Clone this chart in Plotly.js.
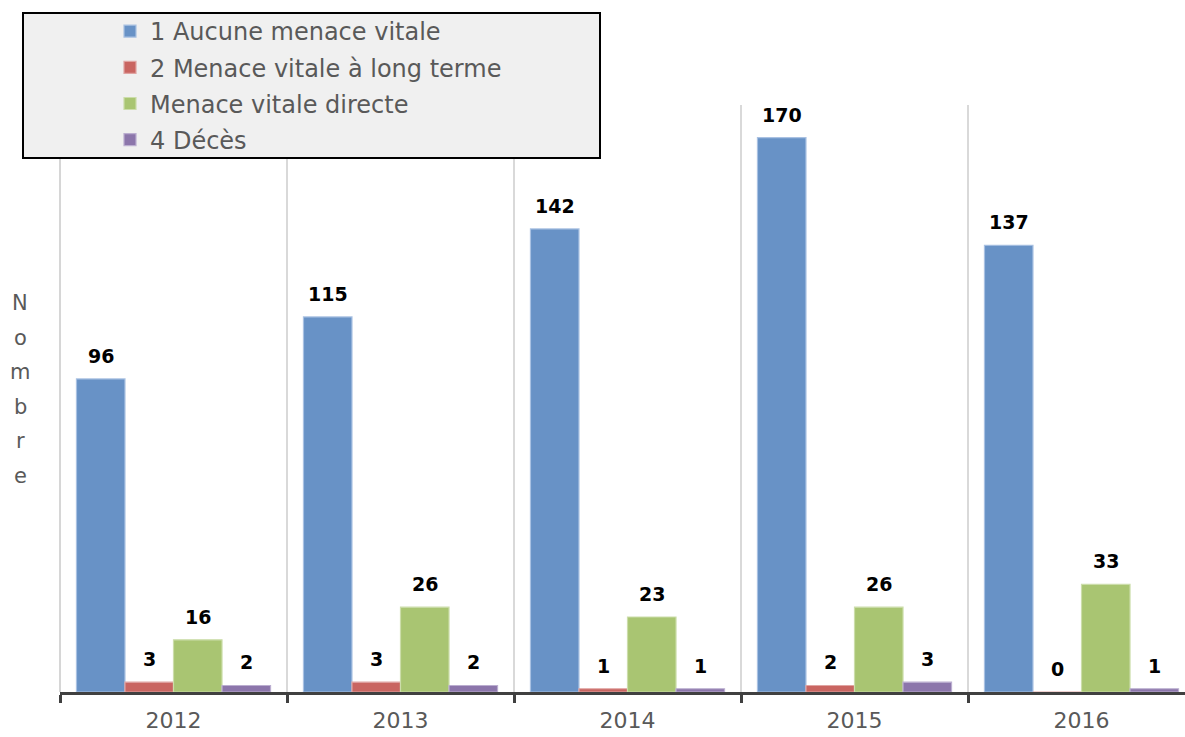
<!DOCTYPE html>
<html>
<head>
<meta charset="utf-8">
<script src="https://cdn.plot.ly/plotly-3.0.1.min.js"></script>
<style>html,body{margin:0;padding:0;background:#fff;}#chart{width:1185px;height:737px;}</style>
</head>
<body>
<div id="chart"></div>
<script>
const years = ["2012", "2013", "2014", "2015", "2016"];
const seriesNames = ["1 Aucune menace vitale", "2 Menace vitale à long terme", "Menace vitale directe", "4 Décès"];
const aucune = [96, 115, 142, 170, 137];
const longTerme = [3, 3, 1, 2, 0];
const directe = [16, 26, 23, 26, 33];
const deces = [2, 2, 1, 3, 1];
const yTitle = "Nombre";

const seriesValues = [aucune, longTerme, directe, deces];
const fills = ["#6892C6", "#C96561", "#A9C572", "#8C76AB"];
const edges = ["#A9C1E2", "#E0A4A2", "#CCDDAA", "#BBAED0"];

const traces = seriesValues.map((vals, i) => ({
  type: "bar",
  name: seriesNames[i],
  x: years,
  y: vals,
  legendgroup: "g" + i,
  marker: {color: fills[i], line: {color: edges[i], width: 1.2}},
  hoverinfo: "x+y+name"
}));

const annotations = [];
// data labels (x given as category index so numeric-looking year names are not misread)
seriesValues.forEach((vals, i) => {
  vals.forEach((v, j) => {
    annotations.push({
      x: j, y: v, xref: "x", yref: "y",
      text: "<b>" + v + "</b>", showarrow: false,
      xanchor: "center", yanchor: "bottom", yshift: 10,
      xshift: (i - 1.5) * 48.5,
      font: {family: "DejaVu Sans", size: 19, color: "#000"}
    });
  });
});
// vertical y-axis title, one letter per line
yTitle.split("").forEach((ch, k) => {
  annotations.push({
    x: 20, y: 303 + k * 34.5, xref: "paper", yref: "paper",
    text: ch, showarrow: false, xanchor: "center", yanchor: "middle",
    font: {family: "DejaVu Sans", size: 21, color: "#595959"}
  });
});

const L = 60, T = 105, W = 1125, H = 587;
annotations.forEach(a => {
  if (a.xref === "paper") {
    a.x = (a.x - L) / W;
    a.y = (T + H - a.y) / H;
  }
});

const layout = {
  width: 1185, height: 737,
  margin: {l: L, r: 0, t: T, b: 737 - T - H, pad: 0},
  paper_bgcolor: "#fff", plot_bgcolor: "#fff",
  barmode: "group", bargap: 0.145, bargroupgap: 0,
  showlegend: true,
  legend: {
    x: (110 - L) / W, y: (T + H - 9) / H, xanchor: "left", yanchor: "top",
    bgcolor: "rgba(0,0,0,0)", borderwidth: 0,
    traceorder: "grouped", tracegroupgap: 2,
    font: {family: "DejaVu Sans", size: 24, color: "#595959"}
  },
  xaxis: {
    type: "category", range: [-0.5, -0.5 + W / 227],
    showline: true, linecolor: "#404040", linewidth: 3,
    ticks: "outside", tickson: "boundaries", ticklen: 8, tickwidth: 3, tickcolor: "#404040",
    showgrid: true, gridcolor: "#D9D9D9", gridwidth: 1.5,
    ticklabelstandoff: 7,
    tickfont: {family: "DejaVu Sans", size: 22, color: "#595959"},
    fixedrange: true
  },
  yaxis: {
    range: [0, 180], visible: false, showgrid: false, zeroline: false, fixedrange: true
  },
  shapes: [
    {type: "line", xref: "paper", yref: "paper", layer: "below",
     x0: 0, x1: 0, y0: 0, y1: 1, line: {color: "#C8C8C8", width: 1.5}},
    {type: "rect", xref: "paper", yref: "paper", layer: "above",
     x0: (23 - L) / W, x1: (600 - L) / W, y0: (T + H - 158) / H, y1: (T + H - 13) / H,
     fillcolor: "#F0F0F0", line: {color: "#000", width: 2}}
  ],
  annotations: annotations
};

Plotly.newPlot("chart", traces, layout, {displayModeBar: false, staticPlot: true});
</script>
</body>
</html>
